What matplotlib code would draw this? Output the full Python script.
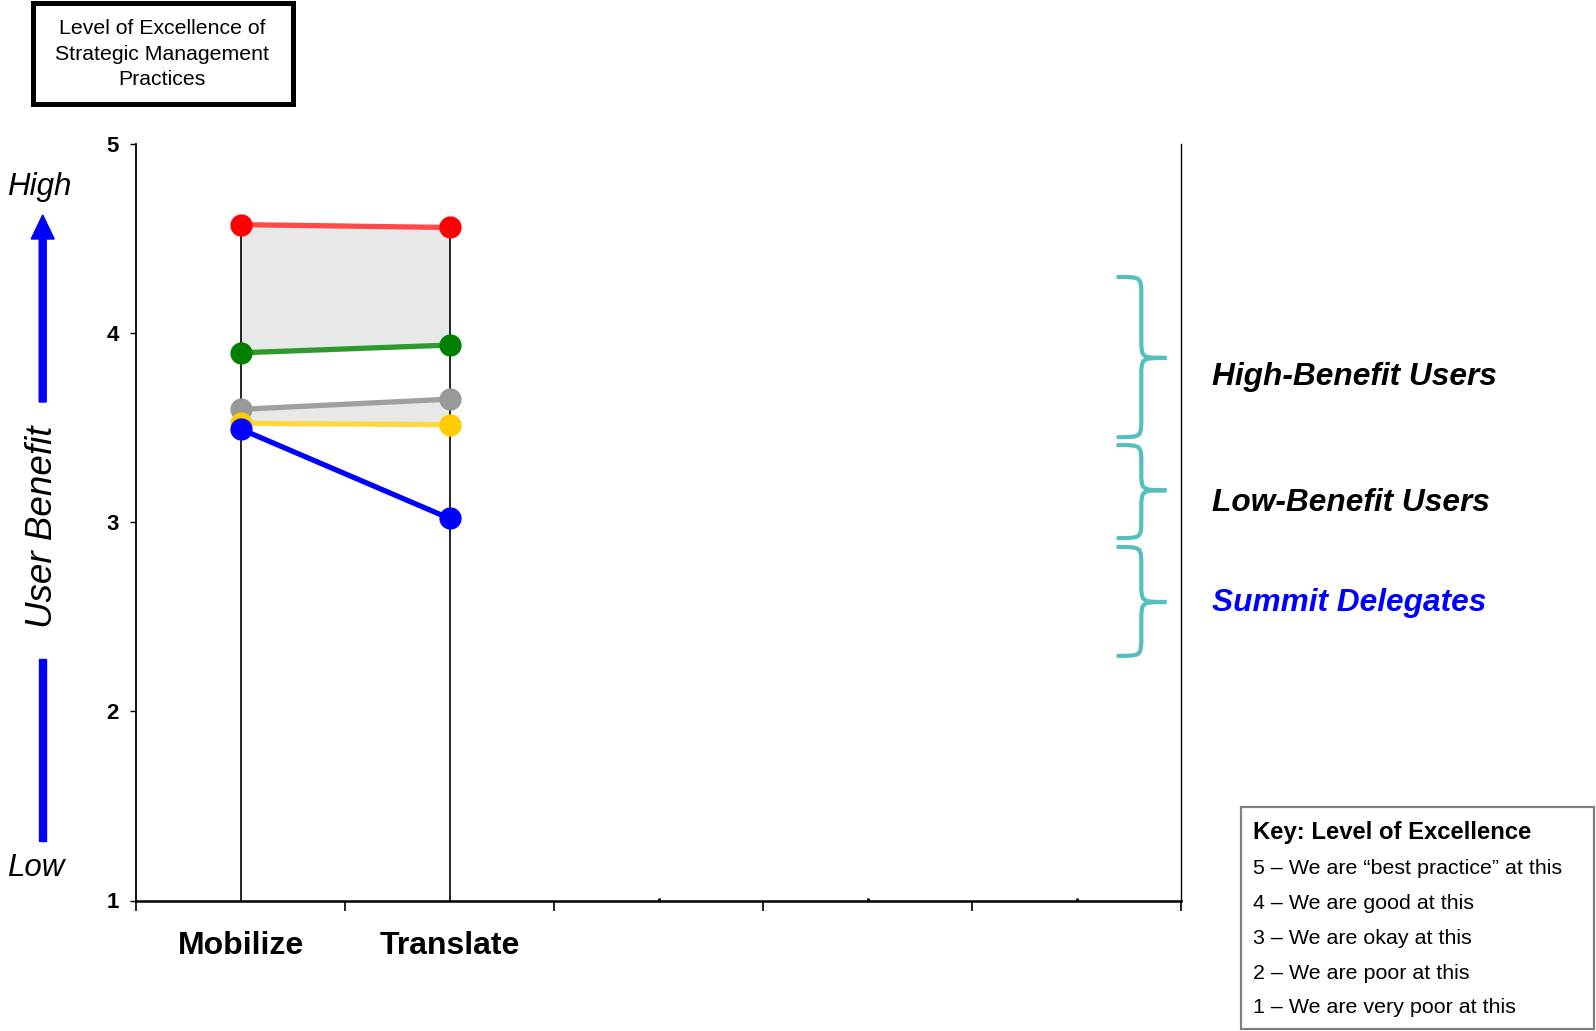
import numpy as np
import matplotlib.pyplot as plt
from matplotlib.path import Path
from matplotlib.patches import PathPatch, Rectangle, FancyArrow

plt.rcParams['font.family'] = ['Liberation Sans', 'DejaVu Sans']

################################################################################
# Data
################################################################################
categories  = ["Mobilize", "Translate", "", "", ""]
cat_x       = np.arange(len(categories)) + 0.5

red_vals    = [4.575, 4.560]
green_vals  = [3.897, 3.938]
gray_vals   = [3.598, 3.652]
yellow_vals = [3.524, 3.517]
blue_vals   = [3.494, 3.021]

y_ticks     = [1, 2, 3, 4, 5]

brace_groups = ["High-Benefit Users", "Low-Benefit Users", "Summit Delegates"]
brace_spans  = [(4.298, 3.451, 3.87), (3.409, 2.917, 3.17), (2.870, 2.294, 2.579)]
label_y      = [3.769, 3.102, 2.573]
brace_colors = ["black", "black", "#0000ff"]

key_title = "Key: Level of Excellence"
key_lines = ["5 \u2013 We are \u201cbest practice\u201d at this",
             "4 \u2013 We are good at this",
             "3 \u2013 We are okay at this",
             "2 \u2013 We are poor at this",
             "1 \u2013 We are very poor at this"]

################################################################################
# Figure
################################################################################
W, H = 1596, 1031
fig = plt.figure(figsize = (W / 100, H / 100), dpi = 100)

def fx(px):
    return px / W

def fy(py):
    return 1 - py / H

ax = fig.add_axes([fx(136), fy(900.5), fx(1181) - fx(136), fy(144.3) - fy(900.5)])
ax.set_xlim(0, len(categories))
ax.set_ylim(1, 5)

n = len(red_vals)
xs = cat_x[:n]

# shaded bands
ax.fill_between(xs, green_vals, red_vals, color = "#e8e8e8", zorder = 1, lw = 0)
ax.fill_between(xs, yellow_vals, gray_vals, color = "#e8e8e8", zorder = 1, lw = 0)

# drop lines from the top series to the axis
tops = np.max([red_vals, green_vals, gray_vals, yellow_vals, blue_vals], axis = 0)
ax.vlines(xs, 1, tops, color = "black", lw = 1.2, zorder = 2)
ax.vlines(cat_x[n:], 1, 1.012, color = "black", lw = 2.0, zorder = 2)

series = [
    (red_vals,    "#ff4a4a", "#ff0000"),
    (green_vals,  "#2e9a2e", "#008000"),
    (gray_vals,   "#a0a0a0", "#999999"),
    (yellow_vals, "#ffd740", "#ffcc00"),
    (blue_vals,   "#0000ff", "#0000ff"),
]
for vals, lc, mc in series:
    ax.plot(xs, vals, color = lc, lw = 3.8, zorder = 3, solid_capstyle = "butt")
for vals, lc, mc in series:
    ax.plot(xs, vals, ls = "none", marker = "o", ms = 15, color = mc, mec = mc, zorder = 4)

# axes styling
ax.spines["top"].set_visible(False)
ax.spines["left"].set_linewidth(1.3)
ax.spines["right"].set_linewidth(1.0)
ax.spines["bottom"].set_linewidth(1.8)

ax.set_yticks(y_ticks)
ax.set_yticklabels([str(t) for t in y_ticks], fontsize = 16, fontweight = "bold")
ax.tick_params(axis = "y", direction = "out", length = 4.5, width = 1.0, pad = 8)

ax.set_xticks(np.arange(len(categories) + 1))
ax.set_xticklabels([])
ax.tick_params(axis = "x", which = "major", direction = "out", length = 7, width = 1.2)
ax.set_xticks(cat_x, labels = categories, minor = True)
ax.tick_params(axis = "x", which = "minor", length = 0, pad = 22, labelsize = 23)
for lab in ax.get_xticklabels(minor = True):
    lab.set_fontweight("bold")

################################################################################
# Braces and group labels
################################################################################
def brace_path(x0, xs_, xt, yt, yb, ym, r):
    verts = [(x0, yt), (xs_, yt), (xs_, yt), (xs_, yt - r),
             (xs_, ym + r),
             (xs_, ym), (xs_, ym), (xt, ym),
             (xs_, ym), (xs_, ym), (xs_, ym - r),
             (xs_, yb + r),
             (xs_, yb), (xs_, yb), (x0, yb)]
    codes = [Path.MOVETO, Path.CURVE4, Path.CURVE4, Path.CURVE4,
             Path.LINETO,
             Path.CURVE4, Path.CURVE4, Path.CURVE4,
             Path.CURVE4, Path.CURVE4, Path.CURVE4,
             Path.LINETO,
             Path.CURVE4, Path.CURVE4, Path.CURVE4]
    return Path(verts, codes)

for (yt, yb, ym), ly, label, col in zip(brace_spans, label_y, brace_groups, brace_colors):
    p = brace_path(4.70, 4.81, 4.93, yt, yb, ym, 0.1)
    ax.add_patch(PathPatch(p, fill = False, ec = "#55bfbf", lw = 3.0,
                           capstyle = "round", zorder = 3))
    fig.text(fx(1212), ax.transData.transform((0, ly))[1] / H, label,
             fontsize = 22.8, fontweight = "bold", fontstyle = "italic",
             color = col, ha = "left", va = "center")

################################################################################
# Left-hand annotations
################################################################################
fig.text(fx(7), fy(187), "High", fontsize = 22.5, fontstyle = "italic", ha = "left", va = "center")
fig.text(fx(7), fy(868), "Low", fontsize = 22.5, fontstyle = "italic", ha = "left", va = "center")
fig.text(fx(43), fy(527), "User Benefit", fontsize = 26.5, fontstyle = "italic",
         rotation = 90, ha = "center", va = "center")

fig.patches.append(FancyArrow(fx(42.7), fy(402), 0, fy(215) - fy(402),
                              width = fx(7), head_width = fx(23),
                              head_length = fy(215) - fy(239),
                              length_includes_head = True, color = "#0000ff",
                              transform = fig.transFigure, figure = fig))
fig.patches.append(Rectangle((fx(39.2), fy(841)), fx(7), fy(659) - fy(841),
                             color = "#0000ff", transform = fig.transFigure, figure = fig))

################################################################################
# Title box
################################################################################
fig.patches.append(Rectangle((fx(32.5), fy(103.5)), fx(292.5) - fx(32.5), fy(2.5) - fy(103.5),
                             fill = False, ec = "black", lw = 3.6,
                             transform = fig.transFigure, figure = fig))
fig.text(fx(162), fy(54), "Level of Excellence of\nStrategic Management\nPractices",
         fontsize = 15.3, ha = "center", va = "center", linespacing = 1.45)

################################################################################
# Key box
################################################################################
fig.patches.append(Rectangle((fx(1241), fy(1029)), fx(1594) - fx(1241), fy(807) - fy(1029),
                             fill = False, ec = "#808080", lw = 1.6,
                             transform = fig.transFigure, figure = fig))
fig.text(fx(1253), fy(833), key_title, fontsize = 17.2, fontweight = "bold", ha = "left", va = "center")
for i, line in enumerate(key_lines):
    fig.text(fx(1253), fy(869 + i * 34.7), line, fontsize = 15.4, ha = "left", va = "center")

fig.savefig("out.png", dpi = 100)
